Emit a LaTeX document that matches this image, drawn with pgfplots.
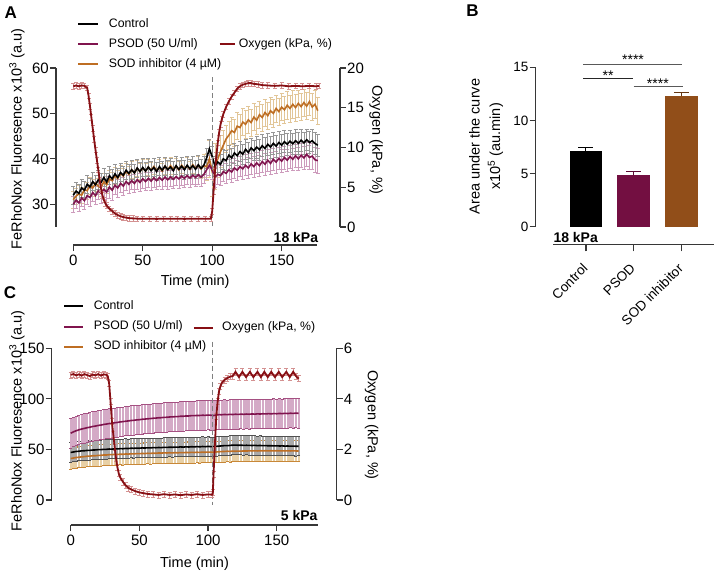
\documentclass[border=0pt]{standalone}
\usepackage{pgfplots}
\usepackage{pgfplotstable}
\pgfplotsset{compat=1.18}
\usepackage{fontspec}
\setmainfont{Liberation Sans}
\definecolor{psod}{RGB}{128,20,78}
\definecolor{psodbar}{RGB}{115,15,65}
\definecolor{psoderr}{RGB}{205,155,188}
\definecolor{psodband}{RGB}{212,170,198}
\definecolor{psodcap}{RGB}{165,80,130}
\definecolor{sod}{RGB}{190,110,35}
\definecolor{sodbar}{RGB}{145,78,25}
\definecolor{soderr}{RGB}{226,198,152}
\definecolor{sodband}{RGB}{232,208,165}
\definecolor{sodcap}{RGB}{200,135,55}
\definecolor{oxy}{RGB}{135,15,20}
\definecolor{oxyerr}{RGB}{212,145,145}
\definecolor{ctrlerr}{RGB}{150,150,150}
\definecolor{ctrlband}{RGB}{170,170,170}
\definecolor{ctrlcap}{RGB}{80,80,80}
\definecolor{axc}{RGB}{55,55,55}

\pgfplotsset{
  mybase/.style={scale only axis, /pgf/number format/assume math mode=true,
    axis line style={axc, line width=1.1pt},
    tick style={axc, line width=1.1pt},
    major tick length=6pt,
    ticklabel style={font=\fontsize{15}{15}\selectfont, inner sep=1pt},
    label style={font=\fontsize{14.5}{17}\selectfont}},
  errA/.style={forget plot, draw=none, mark=none, error bars/.cd, y dir=both, y explicit,
    error bar style={draw=#1, line width=0.6pt},
    error mark options={draw=#1, rotate=90, mark size=2pt, line width=0.6pt}},
  errC/.style n args={3}{forget plot, draw=none, mark=none, error bars/.cd, y dir=both, y fixed=#3,
    error bar style={draw=#1, line width=2.2pt},
    error mark options={draw=#2, rotate=90, mark size=1.5pt, line width=0.8pt}},
}

\pgfplotstableread{
t c ec p ep s es
0 32.0 2.0 30.0 1.8 31.0 1.8
2 32.9 2.0 30.9 1.8 31.8 1.8
4 32.4 2.0 30.3 1.8 32.3 1.8
6 33.6 2.0 31.4 1.8 32.0 1.8
8 33.1 2.0 30.8 1.8 33.2 1.8
10 34.4 2.0 31.9 1.8 33.0 1.8
12 33.8 2.0 31.5 2.0 34.1 1.8
14 35.0 2.0 32.6 2.0 33.6 1.8
16 34.3 2.0 31.9 2.0 34.6 1.8
18 35.4 2.0 33.0 2.0 34.0 1.8
20 34.8 2.0 32.4 2.2 33.6 1.8
22 35.9 2.0 33.3 2.2 35.0 1.8
24 34.9 2.0 32.7 2.6 34.3 1.8
26 36.3 2.0 33.8 2.4 35.6 1.8
28 35.6 2.0 33.1 2.2 35.2 1.8
30 36.7 2.0 34.2 2.0 36.3 1.8
32 35.9 2.0 33.6 2.0 35.7 1.8
34 37.0 2.0 34.6 2.0 36.8 1.8
36 36.4 2.0 34.0 2.0 36.2 1.8
38 37.5 2.0 35.0 2.0 37.3 1.8
40 36.8 2.0 34.4 2.0 36.6 1.8
42 37.6 2.0 35.2 2.0 37.6 1.8
44 36.9 2.0 34.6 2.0 36.9 1.8
46 38.0 2.0 35.4 2.0 37.9 1.8
48 37.2 2.0 34.8 2.0 37.2 1.8
50 38.1 2.0 35.6 2.0 38.0 1.8
52 37.3 2.0 35.0 2.0 37.3 1.8
54 38.2 2.0 35.7 2.0 38.2 1.8
56 37.4 2.0 35.1 2.0 37.5 1.8
58 38.1 2.0 35.8 2.0 38.3 1.8
60 37.2 2.0 35.2 2.0 37.4 1.8
62 38.3 2.0 35.9 2.0 38.1 1.8
64 37.5 2.0 35.3 2.0 37.3 1.8
66 38.4 2.0 36.0 2.0 38.4 1.8
68 37.6 2.0 35.4 2.0 37.6 1.8
70 38.2 2.0 36.0 2.0 38.5 1.8
72 37.4 2.0 35.5 2.0 37.7 1.8
74 38.5 2.0 36.1 2.0 38.4 1.8
76 37.7 2.0 35.6 2.0 37.6 1.8
78 38.4 2.0 36.2 2.0 38.6 1.8
80 37.6 2.0 35.7 2.0 37.8 1.8
82 38.6 2.0 36.3 2.0 38.5 1.8
84 37.8 2.0 35.8 2.0 37.7 1.8
86 38.5 2.0 36.4 2.0 38.7 1.8
88 37.7 2.0 35.9 2.0 37.9 1.8
90 38.7 2.0 36.5 2.0 38.6 2.0
92 37.9 2.0 36.0 2.0 37.8 2.0
94 38.6 2.0 36.6 2.0 38.5 2.5
96 40.2 2.2 37.6 2.0 38.2 3.0
98 42.2 2.2 38.6 2.2 40.0 4.0
100 40.5 2.2 37.6 2.2 37.2 5.5
102 38.4 2.2 36.0 2.2 38.4 5.0
104 39.3 2.2 36.6 2.2 40.0 4.0
106 38.8 2.2 36.3 2.2 41.6 3.5
108 40.0 2.2 37.2 2.2 43.0 3.2
110 39.6 2.2 36.8 2.2 44.4 3.0
112 40.8 2.2 37.6 2.2 45.2 3.0
114 40.2 2.2 37.1 2.2 46.2 3.0
116 41.3 2.2 38.0 2.2 45.8 3.0
118 40.7 2.2 37.5 2.2 47.2 3.0
120 41.6 2.2 38.3 2.2 46.9 3.0
122 41.0 2.2 37.8 2.2 48.1 3.0
124 42.1 2.2 38.6 2.3 47.6 3.0
126 41.4 2.2 38.0 2.3 48.6 3.0
128 42.4 2.2 38.9 2.3 48.0 3.0
130 41.8 2.2 38.3 2.3 49.2 3.0
132 42.6 2.4 39.1 2.3 48.5 3.0
134 42.0 2.4 38.5 2.3 49.7 3.0
136 42.9 2.4 39.4 2.4 49.1 3.0
138 42.3 2.4 38.8 2.4 50.2 3.0
140 43.2 2.4 39.7 2.4 49.5 3.0
142 42.6 2.4 39.0 2.4 50.6 3.0
144 43.4 2.4 39.9 2.4 50.0 3.0
146 42.8 2.4 39.3 2.4 51.1 3.0
148 43.6 2.4 40.1 2.5 50.4 3.0
150 43.0 2.4 39.5 2.5 51.4 3.0
152 43.8 2.4 40.3 2.5 50.8 3.0
154 43.2 2.4 39.7 2.5 51.8 3.0
156 43.9 2.4 40.5 2.5 51.1 3.0
158 43.3 2.4 39.9 2.5 52.0 3.0
160 44.0 2.4 40.7 2.6 51.3 3.0
162 43.4 2.4 40.0 2.6 52.2 3.0
164 44.1 2.4 40.8 2.6 51.5 3.0
166 43.5 2.4 40.2 2.6 52.4 3.0
168 44.2 2.4 41.0 2.6 51.6 3.0
170 43.6 2.4 40.3 2.6 52.6 3.0
172 44.0 2.4 40.6 2.8 51.4 3.0
174 43.4 2.4 39.8 2.8 52.0 3.0
176 43.0 2.4 39.6 2.8 50.6 3.0
}\dataA

\pgfplotstableread{
t v
0 17.7
2 17.8
4 17.7
6 17.8
8 17.75
10 17.5
11 16.5
12 15.2
13 13.8
14 12.4
15 11.0
16 9.7
17 8.4
18 7.2
19 5.9
20 4.8
21 4.0
22 3.4
23 3.0
24 2.7
26 2.3
28 2.0
30 1.7
32 1.5
34 1.35
36 1.25
38 1.18
40 1.12
43 1.08
46 1.05
50 1.03
55 1.05
60 1.02
65 1.05
70 1.03
75 1.05
80 1.02
85 1.05
90 1.03
95 1.05
99 1.05
100 2.0
101 4.5
102 7.0
103 9.0
104 10.6
105 11.9
106 12.9
107 13.6
108 14.2
110 15.1
112 15.8
114 16.4
116 16.9
118 17.4
120 17.7
122 17.9
124 18.0
126 18.1
128 18.1
130 18.0
133 17.95
136 17.85
140 17.8
145 17.75
150 17.8
155 17.7
160 17.75
165 17.7
170 17.75
175 17.7
177 17.75
}\oxyA

\pgfplotstableread{
t c p s
0 47.0 66.0 41.0
2 47.5 67.4 41.5
4 48.0 68.5 42.0
6 48.2 69.4 42.3
8 48.6 70.2 42.7
10 48.7 70.8 42.9
12 49.0 71.5 43.3
14 49.1 72.0 43.4
16 49.4 72.7 43.7
18 49.5 73.1 43.8
20 49.8 73.7 44.1
22 49.8 74.1 44.2
24 50.1 74.7 44.5
26 50.1 75.1 44.5
28 50.4 75.6 44.8
30 50.3 75.9 44.8
32 50.6 76.4 45.1
34 50.5 76.7 45.0
36 50.8 77.2 45.3
38 50.7 77.5 45.2
40 51.0 77.9 45.5
42 50.9 78.2 45.4
44 51.2 78.6 45.7
46 51.1 78.8 45.6
48 51.3 79.2 45.9
50 51.2 79.4 45.8
52 51.5 79.8 46.0
54 51.4 80.0 45.9
56 51.6 80.3 46.2
58 51.5 80.5 46.1
60 51.8 80.8 46.3
62 51.7 81.0 46.2
64 51.9 81.3 46.5
66 51.8 81.4 46.4
68 52.1 81.7 46.6
70 52.0 81.8 46.5
72 52.2 82.1 46.7
74 52.1 82.2 46.6
76 52.3 82.4 46.8
78 52.2 82.5 46.7
80 52.5 82.8 46.9
82 52.3 82.8 46.8
84 52.6 83.1 47.0
86 52.4 83.1 46.9
88 52.7 83.4 47.1
90 52.5 83.4 47.0
92 52.8 83.6 47.2
94 52.6 83.6 47.1
96 52.9 83.8 47.3
98 52.7 83.7 47.2
100 53.0 84.0 47.4
102 52.8 83.8 47.3
104 52.6 83.5 47.2
106 53.0 84.1 47.5
108 53.3 84.4 47.7
110 53.5 84.3 47.9
112 53.8 84.6 48.0
114 53.7 84.4 48.2
116 54.0 84.7 48.1
118 54.2 84.5 48.3
120 54.3 84.8 48.2
122 54.1 84.6 48.4
124 54.2 84.9 48.3
126 54.0 84.7 48.5
128 54.1 85.0 48.4
130 54.0 84.8 48.6
132 53.9 85.1 48.5
134 54.0 84.9 48.6
136 53.8 85.2 48.5
138 53.9 85.0 48.7
140 53.7 85.3 48.6
142 53.8 85.1 48.7
144 53.6 85.4 48.6
146 53.7 85.2 48.7
148 53.5 85.5 48.6
150 53.6 85.3 48.7
152 53.4 85.6 48.6
154 53.5 85.4 48.6
156 53.3 85.7 48.5
158 53.4 85.5 48.6
160 53.2 85.8 48.5
162 53.3 85.6 48.6
164 53.1 85.9 48.5
166 53.2 85.7 48.4
}\dataC

\pgfplotstableread{
t v
0 4.95
2 4.98
4 4.93
6 4.97
8 4.92
10 4.98
12 4.94
14 4.90
16 4.96
18 4.93
20 4.98
22 4.92
24 4.97
26 4.95
27 4.90
28 4.60
29 3.90
30 3.10
31 2.60
32 2.10
33 1.65
34 1.30
35 1.05
36 0.90
38 0.72
40 0.58
42 0.48
44 0.42
47 0.35
50 0.30
53 0.27
56 0.24
60 0.22
64 0.20
68 0.23
72 0.20
76 0.22
80 0.19
84 0.22
88 0.20
92 0.23
96 0.20
100 0.22
103 0.21
103.5 0.30
104 1.00
105 2.20
106 3.30
107 3.90
108 4.30
109 4.50
110 4.62
112 4.75
114 4.82
116 4.88
118 4.90
120 5.07
122.5 4.86
125 5.07
127.7 4.86
130.5 5.07
133 4.86
136 5.07
138.5 4.86
141 5.07
143.5 4.86
146 5.07
148.7 4.86
151.5 5.07
154 4.86
157 5.07
159.5 4.86
162 5.07
164 4.90
166 4.80
}\oxyC

\begin{document}
\begin{tikzpicture}
\useasboundingbox (0pt,0pt) rectangle (715pt,574pt);

%================ Panel A =================
\begin{axis}[mybase, at={(56pt,347pt)}, anchor=south west, width=284pt, height=159pt,
  xmin=-12.45, xmax=192, ymin=25, ymax=60, hide x axis, axis y line*=left, tick align=outside,
  ytick={30,40,50,60},
  ylabel={FeRhoNox Fluoresence x10\textsuperscript{3} (a.u)},
  ylabel style={at={(axis description cs:-0.1373,0.5535)}, anchor=center},
  legend cell align=left,
  legend image code/.code={\draw[#1] (0pt,0pt) -- (19.4pt,0pt);},
  legend style={draw=none, fill=none, at={(0.0739,1.3145)}, anchor=north west, inner sep=0pt,
    row sep=8pt, font=\fontsize{12.3}{14}\selectfont,
    nodes={inner sep=0pt, text height=9pt, text depth=3pt},
    /tikz/every odd column/.append style={column sep=10.3pt}}]
  \addplot[errA=soderr] table[x=t, y=s, y error=es]{\dataA};
  \addplot[errA=psoderr] table[x=t, y=p, y error=ep]{\dataA};
  \addplot[errA=ctrlerr] table[x=t, y=c, y error=ec]{\dataA};
  \addplot[forget plot, sod, line width=1.6pt] table[x=t, y=s]{\dataA};
  \addplot[forget plot, psod, line width=1.6pt] table[x=t, y=p]{\dataA};
  \addplot[forget plot, black, line width=1.6pt] table[x=t, y=c]{\dataA};
  \addplot[forget plot, gray, dash pattern=on 5pt off 3pt, line width=1.2pt] coordinates {(100,58) (100,25)};
  \addlegendimage{black, line width=2pt}\addlegendentry{Control}
  \addlegendimage{psod, line width=2pt}\addlegendentry{PSOD (50 U/ml)}
  \addlegendimage{sod, line width=2pt}\addlegendentry{SOD inhibitor (4 µM)}
\end{axis}

\begin{axis}[mybase, at={(56pt,347pt)}, anchor=south west, width=284pt, height=159pt,
  xmin=-12.45, xmax=192, ymin=0, ymax=20, hide x axis, axis y line*=right, tick align=outside,
  ytick={0,5,10,15,20},
  ylabel={Oxygen (kPa, \%)},
  ylabel style={at={(axis description cs:1.1268,0.547)}, anchor=center, rotate=180},
  legend cell align=left,
  legend image code/.code={\draw[#1] (0pt,0pt) -- (15pt,0pt);},
  legend style={draw=none, fill=none, at={(0.5715,1.1887)}, anchor=north west, inner sep=0pt,
    font=\fontsize{12.3}{14}\selectfont,
    nodes={inner sep=0pt, text height=9pt, text depth=3pt},
    /tikz/every odd column/.append style={column sep=3.4pt}}]
  \addplot[forget plot, draw=none, mark=none, error bars/.cd, y dir=both, y fixed=0.35,
    error bar style={draw=oxyerr, line width=0.6pt},
    error mark options={draw=oxyerr, rotate=90, mark size=2pt, line width=0.6pt}] table[x=t, y=v]{\oxyA};
  \addplot[forget plot, oxy, line width=1.8pt] table[x=t, y=v]{\oxyA};
  \addlegendimage{oxy, line width=2pt}\addlegendentry{Oxygen (kPa, \%)}
\end{axis}

\begin{axis}[mybase, at={(73.3pt,329pt)}, anchor=south west, width=243.8pt, height=10pt,
  xmin=0, xmax=175.5, ymin=0, ymax=1, hide y axis, axis x line*=bottom, tick align=outside,
  xtick={0,50,100,150}, xticklabel style={yshift=-3pt},
  xlabel={Time (min)},
  xlabel style={at={(axis description cs:0.5,0)}, anchor=base, yshift=-41pt}]
\end{axis}

\node[font=\bfseries\fontsize{14}{14}\selectfont, anchor=base east, inner sep=0pt] at (318.3pt,331.7pt) {18 kPa};
\node[font=\bfseries\fontsize{17}{17}\selectfont] at (10.8pt,561.5pt) {A};

%================ Panel B =================
\begin{axis}[mybase, at={(535.7pt,347.3pt)}, anchor=south west, width=179.3pt, height=159.4pt,
  xmin=-1.046, xmax=2.705, ymin=0, ymax=15, hide x axis, axis y line*=left, tick align=outside,
  ytick={0,5,10,15}, clip=false,
  ticklabel style={font=\fontsize{13.5}{13.5}\selectfont},
  ylabel={Area under the curve\\x10\textsuperscript{5} (au.min)},
  ylabel style={at={(axis description cs:-0.2772,0.503)}, anchor=center, align=center,
    font=\fontsize{14.5}{20.5}\selectfont}]
  \addplot[ybar, bar width=31.7pt, bar shift=0pt, fill=black, draw=black,
    error bars/.cd, y dir=plus, y explicit,
    error bar style={black, line width=1.2pt},
    error mark options={black, rotate=90, mark size=7.5pt, line width=1.2pt}]
    coordinates {(0,7.12) +- (0,0.31)};
  \addplot[ybar, bar width=31.7pt, bar shift=0pt, fill=psodbar, draw=psodbar,
    error bars/.cd, y dir=plus, y explicit,
    error bar style={psodbar!80!black, line width=1.2pt},
    error mark options={psodbar!80!black, rotate=90, mark size=7.5pt, line width=1.2pt}]
    coordinates {(1,4.84) +- (0,0.34)};
  \addplot[ybar, bar width=31.7pt, bar shift=0pt, fill=sodbar, draw=sodbar,
    error bars/.cd, y dir=plus, y explicit,
    error bar style={sodbar!70!black, line width=1.2pt},
    error mark options={sodbar!70!black, rotate=90, mark size=7.5pt, line width=1.2pt}]
    coordinates {(2,12.27) +- (0,0.34)};
  \draw[black!65, line width=0.9pt] (axis cs:-0.05,15.28) -- (axis cs:2.01,15.28);
  \draw[black!85, line width=0.9pt] (axis cs:-0.05,13.99) -- (axis cs:0.996,13.99);
  \draw[black!65, line width=0.9pt] (axis cs:1.0,13.17) -- (axis cs:2.04,13.17);
  \node[font=\fontsize{14}{14}\selectfont, anchor=base, yshift=-8pt] at (axis cs:0.99,16.0) {****};
  \node[font=\fontsize{14}{14}\selectfont, anchor=base, yshift=-8pt] at (axis cs:0.47,14.49) {**};
  \node[font=\fontsize{14}{14}\selectfont, anchor=base, yshift=-8pt] at (axis cs:1.51,13.74) {****};
\end{axis}

\begin{axis}[mybase, at={(553.3pt,329.7pt)}, anchor=south west, width=161pt, height=10pt,
  xmin=-0.684, xmax=2.684, ymin=0, ymax=1, hide y axis, axis x line*=bottom, tick align=outside,
  major tick length=7pt,
  xtick={0,1,2}, xticklabels={Control,PSOD,SOD inhibitor},
  xticklabel style={rotate=45, anchor=north east, font=\fontsize{13.5}{13.5}\selectfont,
    xshift=-10pt, yshift=-3.6pt}]
\end{axis}

\node[font=\bfseries\fontsize{14}{14}\selectfont, anchor=base west, inner sep=0pt] at (553.3pt,331.3pt) {18 kPa};
\node[font=\bfseries\fontsize{17}{17}\selectfont] at (472.5pt,563.5pt) {B};

%================ Panel C =================
\begin{axis}[mybase, at={(51.7pt,74pt)}, anchor=south west, width=285pt, height=151.7pt,
  xmin=-13.83, xmax=193.68, ymin=0, ymax=150, hide x axis, axis y line*=left, tick align=outside,
  ytick={0,50,100,150}, clip=false,
  ylabel={FeRhoNox Fluoresence x10\textsuperscript{3} (a.u)},
  ylabel style={at={(axis description cs:-0.1218,0.5208)}, anchor=center},
  legend cell align=left,
  legend image code/.code={\draw[#1] (0pt,0pt) -- (18.4pt,0pt);},
  legend style={draw=none, fill=none, at={(0.0407,1.3184)}, anchor=north west, inner sep=0pt,
    row sep=8.3pt, font=\fontsize{12.3}{14}\selectfont,
    nodes={inner sep=0pt, text height=9pt, text depth=3pt},
    /tikz/every odd column/.append style={column sep=10pt}}]
  \addplot[errC={sodband}{sodcap}{10.5}] table[x=t, y=s]{\dataC};
  \addplot[errC={ctrlband}{ctrlcap}{9.5}] table[x=t, y=c]{\dataC};
  \addplot[errC={psodband}{psodcap}{14.5}] table[x=t, y=p]{\dataC};
  \addplot[forget plot, sod, line width=1.6pt] table[x=t, y=s]{\dataC};
  \addplot[forget plot, black, line width=1.6pt] table[x=t, y=c]{\dataC};
  \addplot[forget plot, psod, line width=1.6pt] table[x=t, y=p]{\dataC};
  \addplot[forget plot, gray, dash pattern=on 5pt off 3pt, line width=1.2pt] coordinates {(103.1,156.5) (103.1,-4.9)};
  \addlegendimage{black, line width=2pt}\addlegendentry{Control}
  \addlegendimage{psod, line width=2pt}\addlegendentry{PSOD (50 U/ml)}
  \addlegendimage{sod, line width=2pt}\addlegendentry{SOD inhibitor (4 µM)}
\end{axis}

\begin{axis}[mybase, at={(51.7pt,74pt)}, anchor=south west, width=285pt, height=151.7pt,
  xmin=-13.83, xmax=193.68, ymin=0, ymax=6, hide x axis, axis y line*=right, tick align=outside,
  ytick={0,2,4,6},
  ylabel={Oxygen (kPa, \%)},
  ylabel style={at={(axis description cs:1.1228,0.4944)}, anchor=center, rotate=180},
  legend cell align=left,
  legend image code/.code={\draw[#1] (0pt,0pt) -- (19pt,0pt);},
  legend style={draw=none, fill=none, at={(0.4947,1.1754)}, anchor=north west, inner sep=0pt,
    font=\fontsize{12.3}{14}\selectfont,
    nodes={inner sep=0pt, text height=9pt, text depth=3pt},
    /tikz/every odd column/.append style={column sep=8.3pt}}]
  \addplot[forget plot, draw=none, mark=none, error bars/.cd, y dir=both, y fixed=0.12,
    error bar style={draw=oxyerr, line width=0.6pt},
    error mark options={draw=oxyerr, rotate=90, mark size=2pt, line width=0.6pt}] table[x=t, y=v]{\oxyC};
  \addplot[forget plot, oxy, line width=1.8pt] table[x=t, y=v]{\oxyC};
  \addlegendimage{oxy, line width=2pt}\addlegendentry{Oxygen (kPa, \%)}
\end{axis}

\begin{axis}[mybase, at={(70.7pt,49pt)}, anchor=south west, width=247.6pt, height=10pt,
  xmin=0, xmax=180.3, ymin=0, ymax=1, hide y axis, axis x line*=bottom, tick align=outside,
  xtick={0,50,100,150}, xticklabel style={yshift=-3pt},
  xlabel={Time (min)},
  xlabel style={at={(axis description cs:0.5,0)}, anchor=base, yshift=-42pt}]
\end{axis}

\node[font=\bfseries\fontsize{14}{14}\selectfont, anchor=base east, inner sep=0pt] at (317.7pt,53.3pt) {5 kPa};
\node[font=\bfseries\fontsize{17}{17}\selectfont] at (10pt,281.5pt) {C};
\end{tikzpicture}
\end{document}
